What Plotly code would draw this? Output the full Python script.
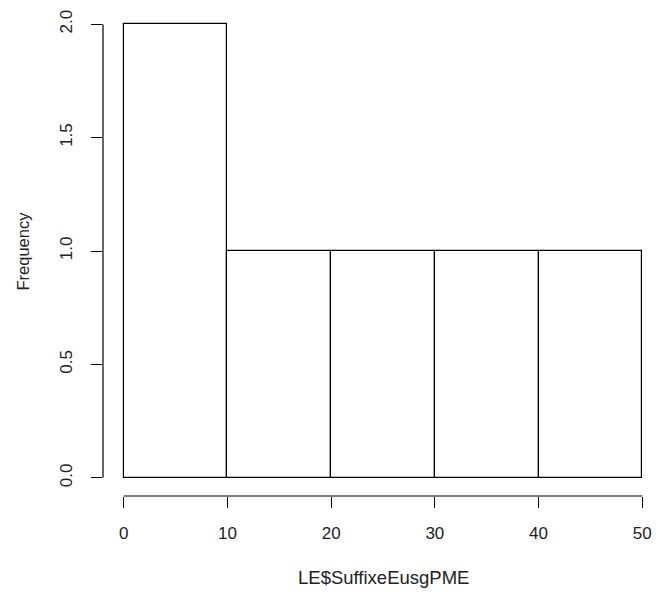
import plotly.graph_objects as go

# Histogram of LE$SuffixeEusgPME: bin edges and counts
bin_edges = [0, 10, 20, 30, 40, 50]
counts = [2, 1, 1, 1, 1]
x_ticks = [0, 10, 20, 30, 40, 50]
y_ticks = [0.0, 0.5, 1.0, 1.5, 2.0]
x_title = "LE$SuffixeEusgPME"
y_title = "Frequency"

centers = [(a + b) / 2 for a, b in zip(bin_edges[:-1], bin_edges[1:])]
widths = [b - a for a, b in zip(bin_edges[:-1], bin_edges[1:])]

family = "Liberation Sans, Arial, sans-serif"
tick_font = dict(family=family, size=17, color="#222")

fig = go.Figure(
    go.Bar(
        x=centers,
        y=counts,
        width=widths,
        marker=dict(color="white", line=dict(color="black", width=1.2)),
        hoverinfo="x+y",
    )
)

xmin, xmax = bin_edges[0], bin_edges[-1]
ymax = max(counts)
xpad = 0.04 * (xmax - xmin)
ypad = 0.04 * ymax

fig.update_xaxes(
    range=[xmin - xpad, xmax + xpad],
    tickvals=x_ticks,
    ticktext=[str(v) for v in x_ticks],
    ticks="outside",
    ticklen=11,
    tickwidth=1.2,
    tickcolor="black",
    ticklabelstandoff=11,
    showline=False,
    showgrid=False,
    zeroline=False,
    tickfont=tick_font,
)
fig.update_yaxes(
    range=[-ypad, ymax + ypad],
    tickvals=y_ticks,
    ticktext=[f"{v:.1f}" for v in y_ticks],
    tickangle=-90,
    ticks="outside",
    ticklen=11,
    tickwidth=1.2,
    tickcolor="black",
    ticklabelstandoff=12,
    showline=False,
    showgrid=False,
    zeroline=False,
    tickfont=tick_font,
)

# R-style axis lines spanning only the tick range
fig.add_shape(type="line", xref="x", yref="paper", x0=x_ticks[0], x1=x_ticks[-1],
              y0=0, y1=0, line=dict(color="black", width=1.2))
fig.add_shape(type="line", xref="paper", yref="y", x0=0, x1=0,
              y0=y_ticks[0], y1=y_ticks[-1], line=dict(color="black", width=1.2))

fig.add_annotation(text=x_title, xref="paper", yref="paper", x=0.5, y=-0.166,
                   xanchor="center", yanchor="middle", showarrow=False,
                   font=dict(family=family, size=18.5, color="#222"))
fig.add_annotation(text=y_title, xref="paper", yref="paper", x=-0.142, y=0.5,
                   xanchor="center", yanchor="middle", textangle=-90,
                   showarrow=False,
                   font=dict(family=family, size=16.5, color="#222"))

fig.update_layout(
    width=664,
    height=592,
    margin=dict(l=102.5, r=1.3, t=6, b=96),
    paper_bgcolor="white",
    plot_bgcolor="white",
    showlegend=False,
    bargap=0,
)

fig.write_html("out.html")
